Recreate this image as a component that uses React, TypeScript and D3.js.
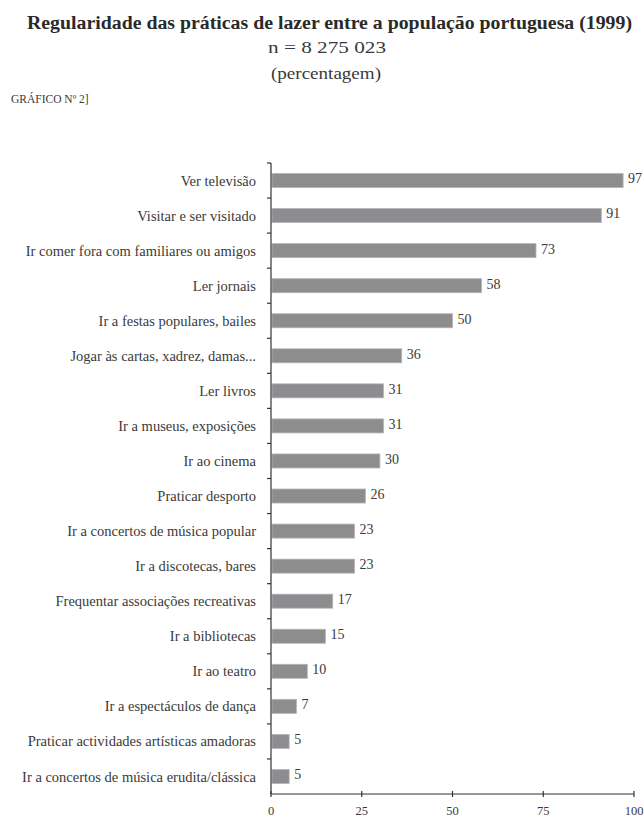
import React from "react";
import * as d3 from "d3";

const categories = [
  "Ver televisão",
  "Visitar e ser visitado",
  "Ir comer fora com familiares ou amigos",
  "Ler jornais",
  "Ir a festas populares, bailes",
  "Jogar às cartas, xadrez, damas...",
  "Ler livros",
  "Ir a museus, exposições",
  "Ir ao cinema",
  "Praticar desporto",
  "Ir a concertos de música popular",
  "Ir a discotecas, bares",
  "Frequentar associações recreativas",
  "Ir a bibliotecas",
  "Ir ao teatro",
  "Ir a espectáculos de dança",
  "Praticar actividades artísticas amadoras",
  "Ir a concertos de música erudita/clássica",
];
const values = [97, 91, 73, 58, 50, 36, 31, 31, 30, 26, 23, 23, 17, 15, 10, 7, 5, 5];
const xTicks = [0, 25, 50, 75, 100];

const titleLines = [
  "Regularidade das práticas de lazer entre a população portuguesa (1999)",
  "n = 8 275 023",
  "(percentagem)",
];
const figureLabel = "GRÁFICO Nº 2]";

const W = 644;
const H = 818;
const FONT = "Liberation Serif";
const TEXT = "#3a3a3a";

export default function App() {
  const x = d3.scaleLinear().domain([0, 100]).range([271, 634]);
  const y = d3.scaleBand<string>().domain(categories).range([163, 794]).paddingInner(0.6).paddingOuter(0.3);
  const step = y.step();
  const boundaries = d3.range(categories.length).map((i) => 163 + i * step);

  return (
    <svg width={W} height={H} style={{ position: "absolute", left: 0, top: 0, background: "#fff" }}>
      <g fontFamily={FONT} fill={TEXT}>
        <text x={329.5} y={29} textAnchor="middle" fontSize={18.5} fontWeight="bold" fill="#2a2a2a"
          textLength={605} lengthAdjust="spacingAndGlyphs">
          {titleLines[0]}
        </text>
        <text x={327} y={53} textAnchor="middle" fontSize={17} textLength={118} lengthAdjust="spacingAndGlyphs">{titleLines[1]}</text>
        <text x={326} y={79} textAnchor="middle" fontSize={17} textLength={110} lengthAdjust="spacingAndGlyphs">{titleLines[2]}</text>
        <text x={11} y={103} fontSize={11.5}>{figureLabel}</text>
      </g>
      <g>
        {categories.map((c, i) => (
          <rect
            key={c}
            x={x(0) + 1}
            y={y(c)!}
            width={x(values[i]) - x(0) - 1}
            height={y.bandwidth()}
            fill="#8d8d8f"
            stroke="#b5b5b7"
            strokeWidth={0.8}
          />
        ))}
      </g>
      <g fontFamily={FONT} fill={TEXT} fontSize={14.5}>
        {categories.map((c, i) => (
          <text key={c} x={256} y={y(c)! + y.bandwidth() / 2} dy="0.35em" textAnchor="end">
            {c}
          </text>
        ))}
        {categories.map((c, i) => (
          <text key={c + "v"} x={x(values[i]) + 5} y={y(c)! + y.bandwidth() / 2 - 2} dy="0.35em" fontSize={14}>
            {values[i]}
          </text>
        ))}
      </g>
      <g stroke="#333" strokeWidth={1.2}>
        <line x1={271} x2={271} y1={163} y2={794} />
        <line x1={271} x2={634} y1={794} y2={794} />
        {boundaries.map((b, i) => (
          <line key={i} x1={267} x2={271} y1={b} y2={b} />
        ))}
        {xTicks.map((t) => (
          <line key={t} x1={x(t)} x2={x(t)} y1={791} y2={797} />
        ))}
      </g>
      <g fontFamily={FONT} fill={TEXT} fontSize={12.5} textAnchor="middle">
        {xTicks.map((t) => (
          <text key={t} x={x(t)} y={815}>{t}</text>
        ))}
      </g>
    </svg>
  );
}
